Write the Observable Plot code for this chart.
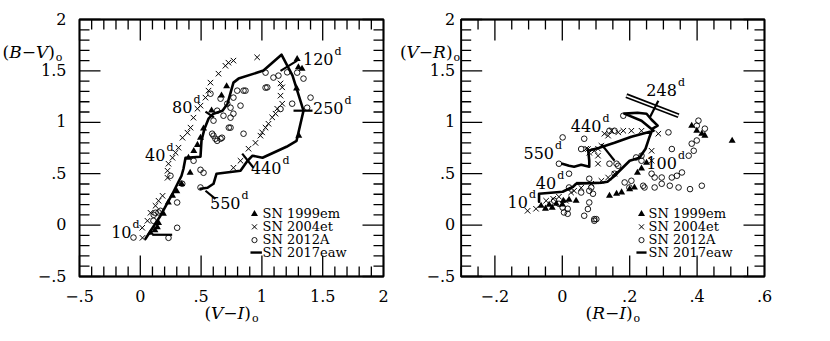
<!DOCTYPE html>
<html><head><meta charset="utf-8">
<script src="https://cdn.jsdelivr.net/npm/d3@7"></script>
<script src="https://cdn.jsdelivr.net/npm/@observablehq/plot@0.6"></script>
<style>body{margin:0;background:#fff}#wrap{display:flex;width:830px;height:341px;overflow:hidden}</style>
</head><body><div id="wrap"></div>
<script>
// ---------- tick values / labels ----------
const viTicks = [-0.5, 0, 0.5, 1, 1.5, 2];
const riTicks = [-0.2, 0, 0.2, 0.4, 0.6];
const colorTicks = [-0.5, 0, 0.5, 1, 1.5, 2];
const seriesNames = ["SN 1999em", "SN 2004et", "SN 2012A", "SN 2017eaw"];

// ---------- left panel: (V-I)o vs (B-V)o ----------
const leftSN1999em = [[0.084,-0.075],[0.12,-0.05],[0.14,-0.02],[0.15,0.02],[0.19,0.11],[0.23,0.22],[0.265,0.285],[0.30,0.33],[0.34,0.40],[0.41,0.51],[0.396,0.655],[0.44,0.72],[0.47,0.78],[0.495,0.85],[0.52,0.94],[0.586,1.115],[0.668,1.26],[0.71,1.35],[1.29,1.616],[1.30,1.535],[1.33,1.52],[1.285,1.33],[1.303,0.87]];
const leftSN2004et = [[0.766,1.60],[0.725,1.58],[0.70,1.55],[0.643,1.473],[0.577,1.386],[0.561,1.308],[0.536,1.24],[0.495,1.162],[0.47,1.132],[0.437,1.045],[0.413,0.948],[0.388,0.899],[0.347,0.85],[0.314,0.753],[0.29,0.704],[0.265,0.655],[0.232,0.597],[0.224,0.529],[0.224,0.46],[0.183,0.285],[0.15,0.237],[0.125,0.188],[0.084,0.12],[0.059,0.042],[0.018,-0.124],[0.016,-0.026],[0.961,1.632],[1.167,1.34],[1.153,1.259],[1.167,1.181],[1.126,1.132],[1.112,1.084],[1.085,1.048],[1.054,0.986],[1.03,0.948],[1.002,0.902],[0.988,0.87],[0.947,0.80],[0.89,0.743],[0.824,0.626],[0.766,0.558],[1.153,1.378]];
const leftSN2012A = [[0.577,1.278],[0.66,1.23],[0.766,1.24],[0.797,1.308],[0.865,1.308],[0.715,1.181],[0.742,1.142],[0.632,1.113],[0.766,1.084],[0.824,1.162],[0.684,1.064],[0.602,1.016],[0.742,1.045],[0.728,0.948],[0.602,0.87],[0.632,0.82],[0.672,0.85],[0.849,0.889],[1.03,1.483],[1.03,1.337],[1.095,1.435],[1.136,1.454],[1.208,1.486],[1.29,1.483],[1.342,1.425],[1.40,1.24],[1.372,1.142],[1.249,1.181],[1.153,1.129],[1.044,1.34],[0.849,1.308],[0.742,0.948],[0.591,0.889],[0.618,0.84],[0.66,0.84],[0.303,0.22],[0.345,0.402],[0.495,0.538],[0.52,0.509],[0.495,0.366],[0.438,0.626],[0.232,-0.124],[0.303,-0.026],[-0.056,-0.121],[0.108,0.042],[0.125,0.12],[0.166,0.139],[0.248,0.48],[0.15,0.123],[0.11,0.10]];
const leftSN2017eaw = [[0.043,-0.133],[0.166,0.091],[0.265,0.305],[0.339,0.48],[0.355,0.548],[0.372,0.655],[0.495,0.665],[0.503,0.82],[0.528,0.938],[0.561,1.035],[0.602,1.084],[0.676,1.113],[0.717,1.181],[0.766,1.386],[0.808,1.425],[1.013,1.503],[1.161,1.658],[1.252,1.454],[1.342,1.113],[1.285,0.82],[1.202,0.762],[1.005,0.655],[0.923,0.675],[0.882,0.626],[0.824,0.529],[0.627,0.50],[0.602,0.402],[0.553,0.363],[0.495,0.353]];
const leftEpochBars = [[0.098,-0.094,0.262,-0.094],[0.536,1.104,0.605,1.048],[1.153,1.50,1.29,1.60],[1.26,1.113,1.416,1.113],[0.838,0.695,0.931,0.558],[0.536,0.334,0.618,0.256]];
const leftEpochLabels = [["10",-0.072,-0.075],["40",0.207,0.675],["80",0.429,1.142],["120",1.589,1.609],["250",1.671,1.132],["440",1.161,0.548],["550",0.824,0.207]];

// ---------- right panel: (R-I)o vs (V-R)o ----------
const rightSN1999em = [[0.384,0.966],[0.399,0.917],[0.414,0.888],[0.423,0.87],[0.504,0.82],[0.14,0.285],[0.161,0.305],[0.176,0.318],[0.2,0.35],[0.214,0.366],[0.223,0.51],[0.235,0.55],[0.25,0.607],[-0.063,0.188],[-0.039,0.198],[-0.018,0.207],[0.003,0.237],[0.02,0.246],[0.041,0.237],[-0.05,0.16],[-0.03,0.17],[0.0,0.2]];
const rightSN2004et = [[0.071,0.743],[0.08,0.704],[0.095,0.723],[0.106,0.743],[0.125,0.889],[0.136,0.87],[0.146,0.918],[0.166,0.902],[0.181,0.918],[0.205,0.918],[0.235,0.918],[0.285,0.889],[0.265,0.626],[0.106,0.597],[0.116,0.772],[-0.103,0.139],[-0.078,0.159],[0.076,0.74],[0.106,0.675],[0.026,0.317],[0.035,0.334],[0.056,0.363],[0.086,0.402],[0.116,0.431],[0.136,0.463],[0.155,0.50],[0.265,0.723],[-0.048,0.237],[-0.027,0.256],[-0.01,0.276],[0.011,0.237]];
const rightSN2012A = [[0.181,1.064],[0.001,0.853],[0.065,0.84],[-0.01,0.597],[0.155,0.918],[0.161,0.597],[0.219,0.658],[0.235,0.626],[0.315,0.902],[0.325,0.74],[0.375,0.675],[0.39,0.723],[0.384,0.792],[0.404,1.016],[0.423,0.938],[0.399,0.967],[0.355,0.512],[0.34,0.48],[0.325,0.463],[0.345,0.366],[0.379,0.35],[0.414,0.383],[0.319,0.383],[0.295,0.402],[0.274,0.366],[0.244,0.366],[0.205,0.431],[0.199,0.366],[0.185,0.415],[0.155,0.50],[0.235,0.675],[0.265,0.50],[0.274,0.463],[0.295,0.463],[0.24,0.383],[0.02,0.50],[0.08,0.451],[0.086,0.366],[0.14,0.597],[0.166,0.577],[0.02,0.366],[0.056,0.317],[0.08,0.334],[0.091,0.305],[0.001,0.171],[0.016,0.159],[0.016,0.11],[0.065,0.091],[0.095,0.058],[0.095,0.042],[0.08,0.22],[0.076,0.156],[-0.01,0.207],[-0.024,0.237],[0.005,0.123],[0.101,0.058],[0.056,0.74],[0.14,0.918],[0.399,0.823]];
const rightSN2017eaw = [[-0.069,0.227],[-0.069,0.305],[0.001,0.324],[0.032,0.373],[0.041,0.402],[0.116,0.412],[0.134,0.422],[0.152,0.470],[0.176,0.548],[0.2,0.626],[0.229,0.655],[0.247,0.743],[0.259,0.860],[0.268,0.938],[0.283,0.967],[0.265,1.025],[0.25,1.083],[0.223,1.093],[0.184,1.084],[0.235,1.015],[0.271,0.918],[0.205,0.86],[0.155,0.801],[0.11,0.753],[0.077,0.723],[0.08,0.626],[0.08,0.568],[0.056,0.587],[0.035,0.568],[0.02,0.577],[0.0,0.597]];
const rightEpochBars = [[0.285,1.21,0.26,1.048],[0.116,0.788,0.155,0.626],[0.041,0.41,0.116,0.41]];
const rightDoubleBar = [[0.19,1.259,0.345,1.064]];
const rightEpochLabels = [["10",-0.102,0.217],["40",-0.018,0.402],["100",0.34,0.597],["248",0.34,1.308],["440",0.116,0.957],["550",-0.0245,0.694]];

// ---------- helpers ----------
const FONT = "DejaVu Serif";
const H = 341, MT = 19, MB = 65, innerH = H - MT - MB;
function fmt(v) {
  if (Math.abs(v) < 1e-9) return "0";
  let s = String(+Math.abs(v).toFixed(2));
  if (s.startsWith("0")) s = s.slice(1);
  return (v < 0 ? "\u2212" : "") + s;
}
// frame + inward ticks drawn as four zig-zag polylines (one per side) with Plot.line
function frameLines(xd, yd, xMinor, xMajor, yMinor, yMajor, innerW) {
  const kx = (xd[1] - xd[0]) / innerW, ky = (yd[1] - yd[0]) / innerH;
  const lenOf = (v, major) => major.some(m => Math.abs(m - v) < 1e-9) ? 21 : 10;
  const xs = xMinor.slice().sort((a, b) => a - b);
  const ys = yMinor.slice().sort((a, b) => a - b);
  const pts = [];
  for (const [side, y0, sgn] of [["bottom", yd[0], 1], ["top", yd[1], -1]]) {
    pts.push({side, px: xd[0], py: y0});
    for (const x of xs) {
      const L = lenOf(x, xMajor);
      pts.push({side, px: x, py: y0}, {side, px: x, py: y0 + sgn * L * ky}, {side, px: x, py: y0});
    }
    pts.push({side, px: xd[1], py: y0});
  }
  for (const [side, x0, sgn] of [["left", xd[0], 1], ["right", xd[1], -1]]) {
    pts.push({side, px: x0, py: yd[0]});
    for (const y of ys) {
      const L = lenOf(y, yMajor);
      pts.push({side, px: x0, py: y}, {side, px: x0 + sgn * L * kx, py: y}, {side, px: x0, py: y});
    }
    pts.push({side, px: x0, py: yd[1]});
  }
  const box = [[xd[0], yd[0]], [xd[1], yd[0]], [xd[1], yd[1]], [xd[0], yd[1]], [xd[0], yd[0]]];
  return [
    Plot.line(pts, {x: "px", y: "py", z: "side", stroke: "black", strokeWidth: 1.3, strokeLinejoin: "miter"}),
    Plot.line(box, {x: d => d[0], y: d => d[1], stroke: "black", strokeWidth: 1.8, strokeLinejoin: "miter"})
  ];
}
function dataMarks(tri, crs, circ, eaw) {
  return [
    Plot.dot(circ, {x: d => d[0], y: d => d[1], symbol: "circle", r: 2.8, stroke: "black", strokeWidth: 0.9, fill: "none"}),
    Plot.dot(crs, {x: d => d[0], y: d => d[1], symbol: "times", r: 2.6, stroke: "black", strokeWidth: 1}),
    Plot.dot(tri, {x: d => d[0], y: d => d[1], symbol: "triangle", r: 2.6, fill: "black", stroke: "none"}),
    Plot.line(eaw, {x: d => d[0], y: d => d[1], stroke: "black", strokeWidth: 2.6, strokeLinejoin: "round"})
  ];
}
function epochMarks(bars, labels) {
  return [
    Plot.link(bars, {x1: d => d[0], y1: d => d[1], x2: d => d[2], y2: d => d[3], stroke: "black", strokeWidth: 2.2}),
    Plot.text(labels, {x: d => d[1], y: d => d[2], text: d => d[0], textAnchor: "end", fontSize: 16, fontFamily: FONT}),
    Plot.text(labels, {x: d => d[1], y: d => d[2], text: () => "d", textAnchor: "start", dx: 1, dy: -8, fontSize: 11, fontFamily: FONT})
  ];
}
function legendMarks(symX, lineX1, lineX2, textX, rowsY) {
  const rows = seriesNames.map((n, i) => ({n, y: rowsY[i]}));
  return [
    Plot.dot([rows[0]], {x: () => symX, y: d => d.y, symbol: "triangle", r: 2.6, fill: "black"}),
    Plot.dot([rows[1]], {x: () => symX, y: d => d.y, symbol: "times", r: 2.4, stroke: "black", strokeWidth: 1}),
    Plot.dot([rows[2]], {x: () => symX, y: d => d.y, symbol: "circle", r: 2.6, stroke: "black", fill: "none", strokeWidth: 0.9}),
    Plot.link([rows[3]], {x1: () => lineX1, x2: () => lineX2, y1: d => d.y, y2: d => d.y, stroke: "black", strokeWidth: 2.4}),
    Plot.text(rows, {x: () => textX, y: d => d.y, text: d => d.n, textAnchor: "start", fontSize: 13, fontFamily: FONT})
  ];
}
function richLabels(svg, map) {
  svg.querySelectorAll("text").forEach(t => {
    const parts = map[t.textContent];
    if (!Array.isArray(parts)) return;
    t.textContent = "";
    for (const [s, kind] of parts) {
      const ts = document.createElementNS("http://www.w3.org/2000/svg", "tspan");
      ts.textContent = s;
      if (kind === "i") ts.setAttribute("font-style", "italic");
      if (kind === "sub") { ts.setAttribute("font-size", "11"); ts.setAttribute("dy", "3"); ts.setAttribute("dx", "1"); }
      t.appendChild(ts);
    }
  });
}
const lab = (a, b) => [["(", ""], [a, "i"], ["\u2212", ""], [b, "i"], [")", ""], ["o", "sub"]];

const yD = [-0.5, 2];
const yMinor = d3.range(-5, 21).map(i => i / 10);

// ---------- left plot ----------
const leftML = 79, leftMR = 32, leftXd = [-0.5, 2];
const leftPlot = Plot.plot({
  width: 415, height: H, marginLeft: leftML, marginRight: leftMR, marginTop: MT, marginBottom: MB,
  x: {domain: leftXd}, y: {domain: yD},
  style: {fontFamily: FONT, fontSize: "16px", color: "black", background: "white", overflow: "visible"},
  marks: [
    ...frameLines(leftXd, yD, d3.range(-5, 21).map(i => i / 10), viTicks, yMinor, colorTicks, 415 - leftML - leftMR),
    Plot.axisX(viTicks, {tickFormat: fmt, tickSize: 0, tickPadding: 14, label: null, fontSize: 16, fontFamily: FONT}),
    Plot.axisY(colorTicks, {tickFormat: fmt, tickSize: 0, tickPadding: 13, label: null, fontSize: 16, fontFamily: FONT}),
    ...dataMarks(leftSN1999em, leftSN2004et, leftSN2012A, leftSN2017eaw),
    ...epochMarks(leftEpochBars, leftEpochLabels),
    ...legendMarks(0.939, 0.906, 1.0, 1.005, [0.107, -0.017, -0.146, -0.267]),
    Plot.text(["(V-I)o"], {frameAnchor: "bottom", text: d => d, dy: 42, fontSize: 17, fontFamily: FONT}),
    Plot.text(["(B-V)o"], {frameAnchor: "top-left", text: d => d, dx: -77, dy: 26, textAnchor: "start", fontSize: 17, fontFamily: FONT})
  ]
});

// ---------- right plot ----------
const rightML = 45.7, rightMR = 66, rightXd = [-0.3, 0.6];
const rightPlot = Plot.plot({
  width: 415, height: H, marginLeft: rightML, marginRight: rightMR, marginTop: MT, marginBottom: MB,
  x: {domain: rightXd}, y: {domain: yD},
  style: {fontFamily: FONT, fontSize: "16px", color: "black", background: "white", overflow: "visible"},
  marks: [
    ...frameLines(rightXd, yD, d3.range(-6, 13).map(i => i / 20), riTicks, yMinor, colorTicks, 415 - rightML - rightMR),
    Plot.axisX(riTicks, {tickFormat: fmt, tickSize: 0, tickPadding: 14, label: null, fontSize: 16, fontFamily: FONT}),
    Plot.axisY(colorTicks, {tickFormat: fmt, tickSize: 0, tickPadding: 6, label: null, fontSize: 16, fontFamily: FONT}),
    ...dataMarks(rightSN1999em, rightSN2004et, rightSN2012A, rightSN2017eaw),
    Plot.link(rightDoubleBar, {x1: d => d[0], y1: d => d[1], x2: d => d[2], y2: d => d[3], stroke: "black", strokeWidth: 5}),
    Plot.link(rightDoubleBar, {x1: d => d[0], y1: d => d[1], x2: d => d[2], y2: d => d[3], stroke: "white", strokeWidth: 1.6}),
    ...epochMarks(rightEpochBars, rightEpochLabels),
    ...legendMarks(0.235, 0.22, 0.25, 0.256, [0.107, -0.017, -0.146, -0.267]),
    Plot.text(["(R-I)o"], {frameAnchor: "bottom", text: d => d, dy: 42, fontSize: 17, fontFamily: FONT}),
    Plot.text(["(V-R)o"], {frameAnchor: "top-left", text: d => d, dx: -1, dy: 26, textAnchor: "end", fontSize: 17, fontFamily: FONT})
  ]
});

richLabels(leftPlot, {"(V-I)o": lab("V", "I"), "(B-V)o": lab("B", "V")});
richLabels(rightPlot, {"(R-I)o": lab("R", "I"), "(V-R)o": lab("V", "R")});
const wrap = document.getElementById("wrap");
wrap.appendChild(leftPlot);
wrap.appendChild(rightPlot);
</script>
</body></html>
